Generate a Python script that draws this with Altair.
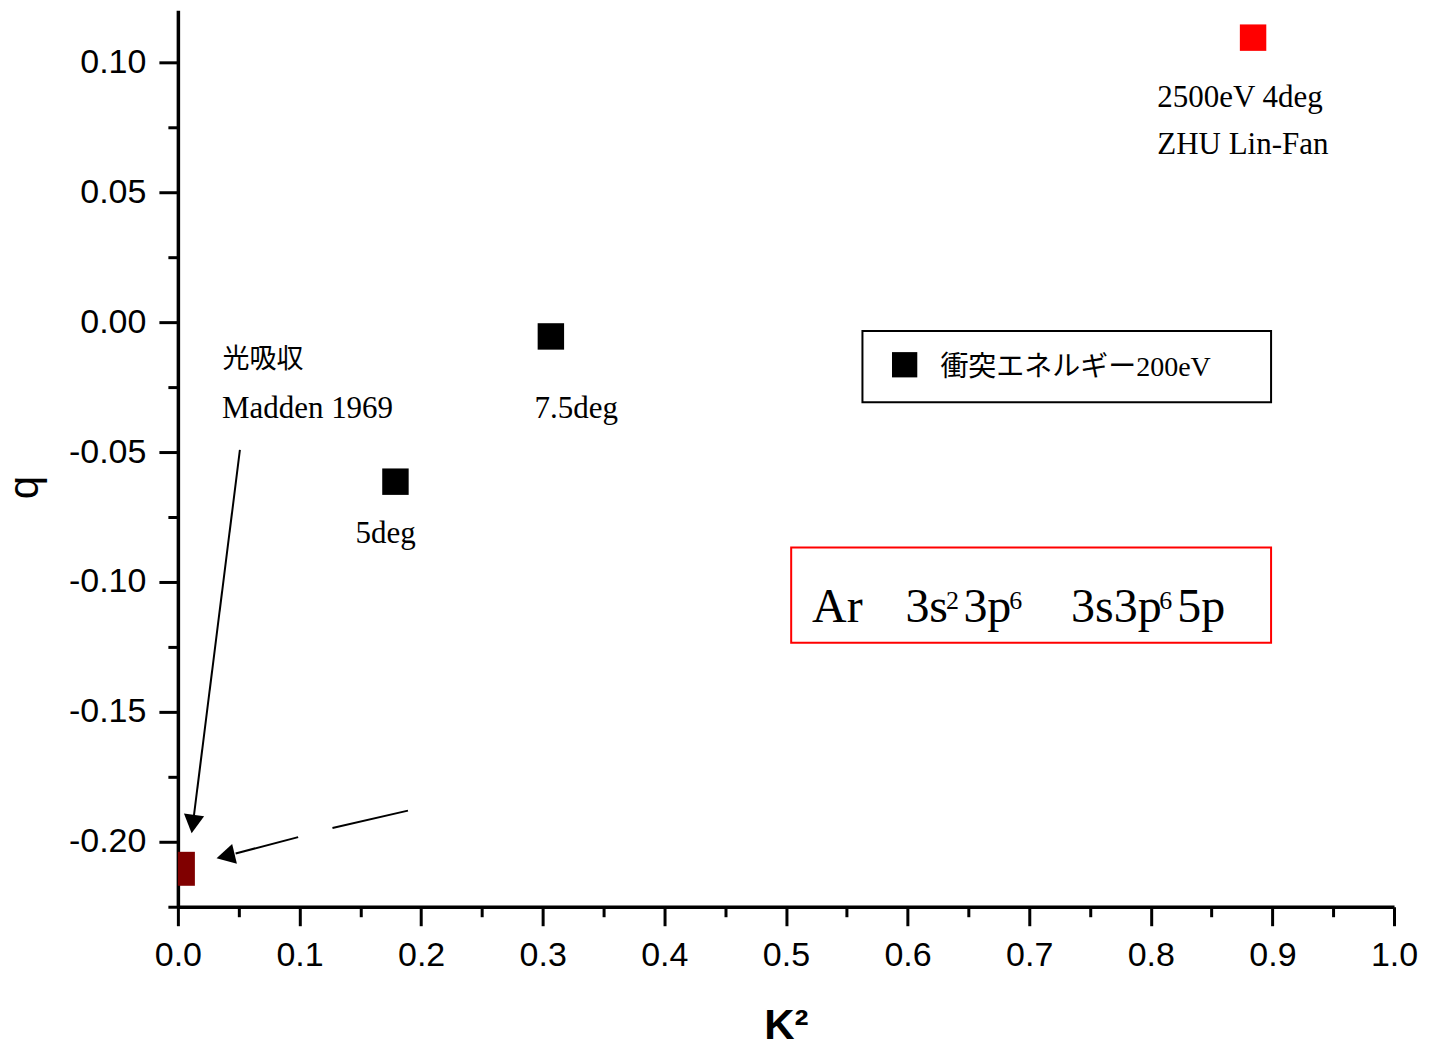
import altair as alt
import pandas as pd

# ---------------- data ----------------
k2_200eV = [0.1789, 0.3067]
q_200eV = [-0.0614, -0.0055]
labels_200eV = ["5deg", "7.5deg"]

k2_zhu = [0.8841]
q_zhu = [0.1095]

k2_madden = [0.007]
q_madden = [-0.2104]

x_major = [0.0, 0.1, 0.2, 0.3, 0.4, 0.5, 0.6, 0.7, 0.8, 0.9, 1.0]
x_minor = [0.05, 0.15, 0.25, 0.35, 0.45, 0.55, 0.65, 0.75, 0.85, 0.95]
y_major = [-0.20, -0.15, -0.10, -0.05, 0.0, 0.05, 0.10]
y_minor = [-0.225, -0.175, -0.125, -0.075, -0.025, 0.025, 0.075]

# ---------------- annotations (positions in data units) ----------------
ann_text = ["光吸収", "Madden 1969", labels_200eV[1], labels_200eV[0],
            "2500eV 4deg", "ZHU Lin-Fan", "衝突エネルギー200eV"]
ann_x = [0.0367, 0.0362, 0.2933, 0.1460, 0.8053, 0.8053, 0.6270]
ann_y = [-0.0177, -0.0370, -0.0369, -0.0849, 0.0828, 0.0646, -0.0208]
ann_fs = [27, 31, 31, 31, 31, 31, 28]

ar_text = ["Ar", "3s", "2", "3p", "6", "3s3p", "6", "5p"]
ar_x = [0.5215, 0.5982, 0.6316, 0.6459, 0.6837, 0.7344, 0.8069, 0.8217]
ar_y = [-0.1153, -0.1153, -0.1104, -0.1153, -0.1104, -0.1153, -0.1104, -0.1153]
ar_fs = [48, 48, 26, 48, 26, 48, 26, 48]

box_x = [0.5629, 0.5043]
box_x2 = [0.8989, 0.8989]
box_y = [-0.0034, -0.0867]
box_y2 = [-0.0308, -0.1234]
box_col = ["black", "#ff0000"]

seg_x = [0.0510, 0.1892, 0.0989]
seg_y = [-0.0492, -0.1880, -0.1982]
seg_x2 = [0.0132, 0.1271, 0.0475]
seg_y2 = [-0.1899, -0.1947, -0.2045]

head_x = [0.0113, 0.0318]
head_y = [-0.1967, -0.2063]
head_ang = [187.5, 256.5]

legend_x = [0.5976]
legend_y = [-0.0164]

# ---------------- helpers ----------------
xscale = alt.Scale(domain=[0, 1], nice=False, zero=False)
yscale = alt.Scale(domain=[-0.225, 0.12], nice=False, zero=False)


def X(f):
    return alt.X(f, type="quantitative", scale=xscale, axis=None)


def Y(f):
    return alt.Y(f, type="quantitative", scale=yscale, axis=None)


SERIF = "Liberation Serif, Noto Sans CJK JP"
SANS = "Liberation Sans"

# ---------------- axes layers ----------------
axis_df = pd.DataFrame({"x": [0.5], "y": [0.0]})

x_axis_major = alt.Axis(
    orient="bottom", values=x_major, format=".1f", grid=False,
    labelFont=SANS, labelFontSize=34, labelColor="black", labelPadding=13,
    labelFlush=False, labelOverlap=False,
    tickSize=19, tickWidth=3, tickColor="black",
    domainColor="black", domainWidth=3.5,
    title="K²", titleFont=SANS, titleFontSize=42, titleFontWeight="bold",
    titleColor="black", titleBaseline="alphabetic", titleY=132,
)
y_axis_major = alt.Axis(
    orient="left", values=y_major, grid=False,
    labelExpr="replace(format(datum.value, '.2f'), '\u2212', '-')",
    labelFont=SANS, labelFontSize=34, labelColor="black", labelPadding=13,
    labelFlush=False, labelOverlap=False,
    tickSize=19, tickWidth=3, tickColor="black",
    domainColor="black", domainWidth=3.5,
    title="q", titleFont=SANS, titleFontSize=42, titleFontWeight="normal",
    titleColor="black", titleAngle=270, titleBaseline="bottom",
    titleX=-131, titleY=477,
)
x_axis_minor = alt.Axis(
    orient="bottom", values=x_minor, grid=False, labels=False, domain=False,
    tickSize=10, tickWidth=3, tickColor="black", title=None,
)
y_axis_minor = alt.Axis(
    orient="left", values=y_minor, grid=False, labels=False, domain=False,
    tickSize=10, tickWidth=3, tickColor="black", title=None,
)

axes_major = alt.Chart(axis_df).mark_point(opacity=0).encode(
    x=alt.X("x:Q", scale=xscale, axis=x_axis_major),
    y=alt.Y("y:Q", scale=yscale, axis=y_axis_major),
)
axes_minor = alt.Chart(axis_df).mark_point(opacity=0).encode(
    x=alt.X("x:Q", scale=xscale, axis=x_axis_minor),
    y=alt.Y("y:Q", scale=yscale, axis=y_axis_minor),
)

# ---------------- boxes ----------------
boxes = alt.Chart(pd.DataFrame({
    "x": box_x, "x2": box_x2, "y": box_y, "y2": box_y2, "c": box_col
})).mark_rect(fillOpacity=0, strokeWidth=2).encode(
    x=X("x"), x2="x2", y=Y("y"), y2="y2",
    stroke=alt.Stroke("c:N", scale=None),
)

# ---------------- arrows ----------------
segs = alt.Chart(pd.DataFrame({
    "x": seg_x, "y": seg_y, "x2": seg_x2, "y2": seg_y2
})).mark_rule(color="black", strokeWidth=2).encode(
    x=X("x"), y=Y("y"), x2="x2", y2="y2",
)
heads = alt.Chart(pd.DataFrame({
    "x": head_x, "y": head_y, "a": head_ang
})).mark_point(
    shape="M0,0L-0.55,1L0.55,1Z", filled=True, size=1369,
    color="black", opacity=1,
).encode(
    x=X("x"), y=Y("y"), angle=alt.Angle("a:Q", scale=None),
)

# ---------------- data points ----------------
pts_200 = alt.Chart(pd.DataFrame({"k2": k2_200eV, "q": q_200eV})).mark_point(
    shape="square", filled=True, size=700, color="black", opacity=1,
).encode(x=X("k2"), y=Y("q"))

pts_zhu = alt.Chart(pd.DataFrame({"k2": k2_zhu, "q": q_zhu})).mark_point(
    shape="square", filled=True, size=700, color="#ff0000", opacity=1,
).encode(x=X("k2"), y=Y("q"))

pts_madden = alt.Chart(pd.DataFrame({"k2": k2_madden, "q": q_madden})).mark_point(
    shape="M-0.5,-1L0.5,-1L0.5,1L-0.5,1Z", filled=True, size=1156,
    color="#800000", opacity=1,
).encode(x=X("k2"), y=Y("q"))

legend_sym = alt.Chart(pd.DataFrame({"x": legend_x, "y": legend_y})).mark_point(
    shape="square", filled=True, size=640, color="black", opacity=1,
).encode(x=X("x"), y=Y("y"))

# ---------------- texts ----------------
texts = alt.Chart(pd.DataFrame({
    "t": ann_text, "x": ann_x, "y": ann_y, "fs": ann_fs
})).mark_text(align="left", baseline="alphabetic", font=SERIF, color="black").encode(
    x=X("x"), y=Y("y"), text="t:N", size=alt.Size("fs:Q", scale=None),
)

ar_texts = alt.Chart(pd.DataFrame({
    "t": ar_text, "x": ar_x, "y": ar_y, "fs": ar_fs
})).mark_text(align="left", baseline="alphabetic", font=SERIF, color="black").encode(
    x=X("x"), y=Y("y"), text="t:N", size=alt.Size("fs:Q", scale=None),
)

chart = alt.layer(
    axes_major, axes_minor, boxes, segs, heads,
    pts_200, pts_zhu, pts_madden, legend_sym, texts, ar_texts,
).resolve_axis(
    x="independent", y="independent"
).properties(
    width=1217, height=897,
    autosize=alt.AutoSizeParams(type="none"),
    padding={"left": 170, "top": 2, "right": 34, "bottom": 136},
    background="white",
).configure_view(stroke=None)

chart.save("out.html", embed_options={"renderer": "svg", "actions": False})
